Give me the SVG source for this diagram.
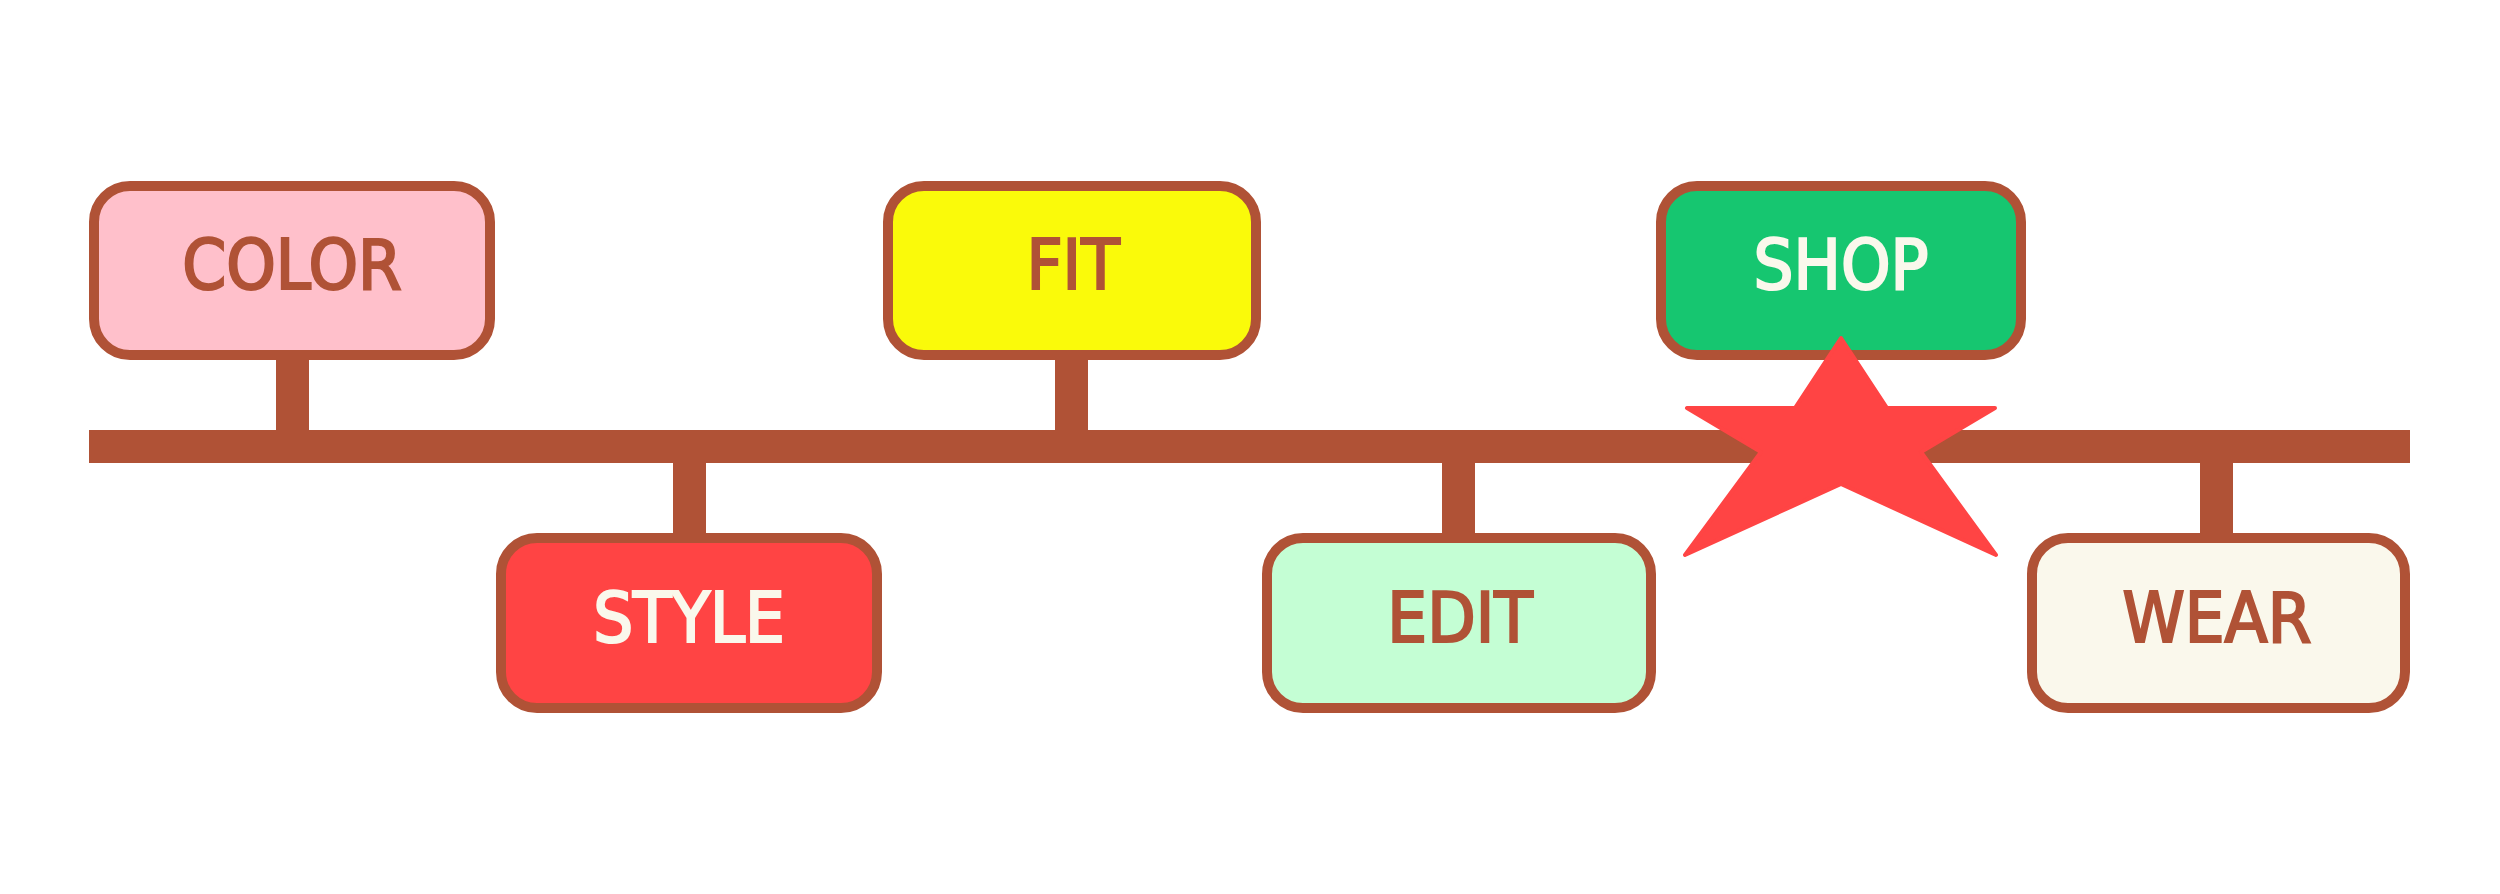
<svg xmlns="http://www.w3.org/2000/svg" width="2500" height="894" viewBox="0 0 2500 894">
<style>
.box{stroke:#B05236;stroke-width:10}
.bar{fill:#B05236}
.lbl{font-family:"DejaVu Sans Condensed","DejaVu Sans",sans-serif;font-stretch:condensed;font-size:70px;text-anchor:middle;stroke-width:2.2;stroke-linejoin:miter;font-kerning:normal}
.dark{fill:#B05236;stroke:#B05236}
.light{fill:#FAF8EC;stroke:#FAF8EC}
</style>
<rect width="2500" height="894" fill="#FFFFFF"/>
<g id="connectors">
<rect class="bar" x="89" y="430" width="2321" height="33"/>
<rect class="bar" x="276" y="358" width="33" height="74"/>
<rect class="bar" x="1055" y="358" width="33" height="74"/>
<rect class="bar" x="673" y="461" width="33" height="74"/>
<rect class="bar" x="1442" y="461" width="33" height="74"/>
<rect class="bar" x="2200" y="461" width="33" height="74"/>
</g>
<g id="node-color">
<rect class="box" x="94" y="186" width="396" height="169" rx="36" fill="#FFC0CB"/>
<text class="lbl dark" x="292" y="289">COLOR</text>
</g>
<g id="node-fit">
<rect class="box" x="888" y="186" width="368" height="169" rx="36" fill="#FAFA0A"/>
<text class="lbl dark" x="1073" y="289">FIT</text>
</g>
<g id="node-shop">
<rect class="box" x="1661" y="186" width="360" height="169" rx="36" fill="#16C670"/>
<text class="lbl light" x="1841" y="289">SHOP</text>
</g>
<g id="node-style">
<rect class="box" x="501" y="538" width="376" height="170" rx="36" fill="#FF4444"/>
<text class="lbl light" x="689" y="642">STYLE</text>
</g>
<g id="node-edit">
<rect class="box" x="1267" y="538" width="384" height="170" rx="36" fill="#C4FED4"/>
<text class="lbl dark" x="1460" y="642">EDIT</text>
</g>
<g id="node-wear">
<rect class="box" x="2032" y="538" width="373" height="170" rx="36" fill="#FAF8EC"/>
<text class="lbl dark" x="2217" y="642">WEAR</text>
</g>
<g id="star">
<polygon points="1841,338 1887,408 1995,408 1921,452 1996,555 1841,484 1685,555 1761,452 1687,408 1795,408" fill="#FF4444" stroke="#FF4444" stroke-width="4" stroke-linejoin="round"/>
</g>
</svg>
